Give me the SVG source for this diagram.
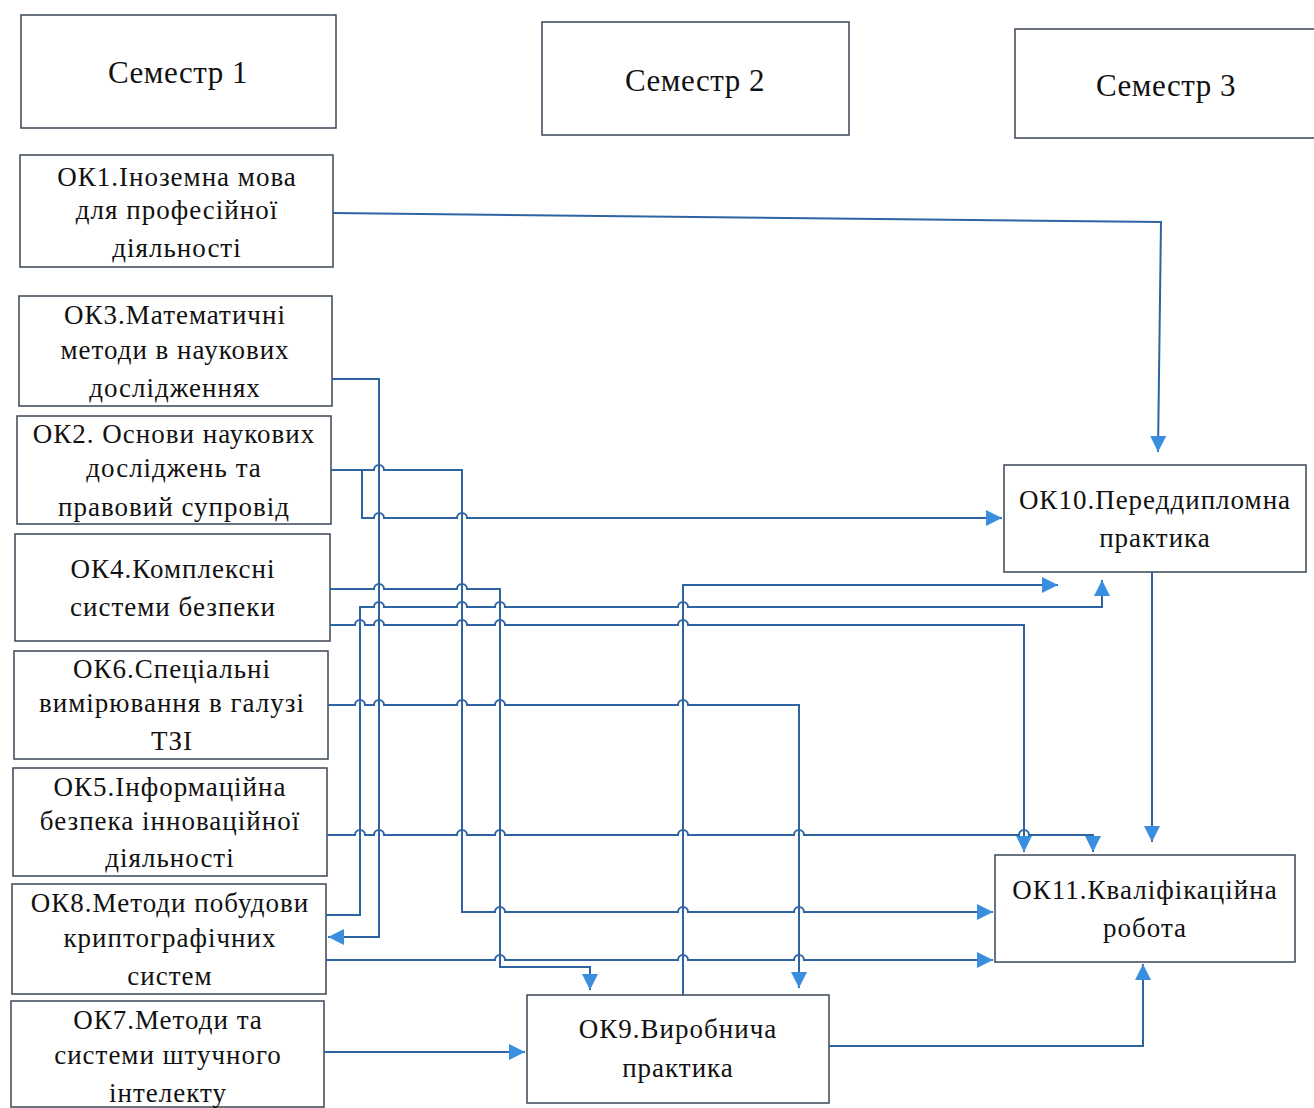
<svg xmlns="http://www.w3.org/2000/svg" width="1314" height="1108" viewBox="0 0 1314 1108">
<style>
.box{fill:#fff;stroke:#3b4656;stroke-width:1.5}
.t{font-family:"Liberation Serif","Times New Roman",serif;font-size:27px;letter-spacing:1px;fill:#111;text-anchor:middle}
.h{font-family:"Liberation Serif","Times New Roman",serif;font-size:31px;letter-spacing:0.5px;fill:#111;text-anchor:middle}
.c{fill:none;stroke:#2f64a3;stroke-width:2}
</style>
<defs>
<marker id="ar" viewBox="0 0 16 16" refX="16" refY="8" markerWidth="16" markerHeight="16" markerUnits="userSpaceOnUse" orient="auto">
<path d="M0,0 L16,8 L0,16 Z" fill="#3a8ee0"/>
</marker>
</defs>
<rect width="1314" height="1108" fill="#fff"/>

<g id="sem1"><rect class="box" x="21" y="15" width="315" height="113"/><text class="h" x="178" y="83">Семестр 1</text></g>
<g id="sem2"><rect class="box" x="542" y="22" width="307" height="113"/><text class="h" x="695" y="91">Семестр 2</text></g>
<g id="sem3"><rect class="box" x="1015" y="29" width="305" height="109"/><text class="h" x="1166" y="96">Семестр 3</text></g>

<g id="ok1"><rect class="box" x="20" y="155" width="313" height="112"/>
<text class="t" x="177" y="186">ОК1.Іноземна мова</text><text class="t" x="177" y="219">для професійної</text><text class="t" x="177" y="257">діяльності</text></g>
<g id="ok3"><rect class="box" x="19" y="296" width="313" height="110"/>
<text class="t" x="175" y="324">ОК3.Математичні</text><text class="t" x="175" y="359">методи в наукових</text><text class="t" x="175" y="397">дослідженнях</text></g>
<g id="ok2"><rect class="box" x="17" y="416" width="314" height="108"/>
<text class="t" x="174" y="443">ОК2. Основи наукових</text><text class="t" x="174" y="477">досліджень та</text><text class="t" x="174" y="516">правовий супровід</text></g>
<g id="ok4"><rect class="box" x="15" y="534" width="315" height="107"/>
<text class="t" x="173" y="578">ОК4.Комплексні</text><text class="t" x="173" y="616">системи безпеки</text></g>
<g id="ok6"><rect class="box" x="14" y="651" width="314" height="108"/>
<text class="t" x="172" y="678">ОК6.Спеціальні</text><text class="t" x="172" y="712">вимірювання в галузі</text><text class="t" x="172" y="750">ТЗІ</text></g>
<g id="ok5"><rect class="box" x="13" y="768" width="314" height="108"/>
<text class="t" x="170" y="796">ОК5.Інформаційна</text><text class="t" x="170" y="830">безпека інноваційної</text><text class="t" x="170" y="867">діяльності</text></g>
<g id="ok8"><rect class="box" x="12" y="884" width="314" height="110"/>
<text class="t" x="170" y="912">ОК8.Методи побудови</text><text class="t" x="170" y="947">криптографічних</text><text class="t" x="170" y="985">систем</text></g>
<g id="ok7"><rect class="box" x="11" y="1001" width="313" height="106"/>
<text class="t" x="168" y="1029">ОК7.Методи та</text><text class="t" x="168" y="1064">системи штучного</text><text class="t" x="168" y="1102">інтелекту</text></g>
<g id="ok9"><rect class="box" x="527" y="995" width="302" height="108"/>
<text class="t" x="678" y="1038">ОК9.Виробнича</text><text class="t" x="678" y="1077">практика</text></g>
<g id="ok10"><rect class="box" x="1004" y="465" width="302" height="107"/>
<text class="t" x="1155" y="509">ОК10.Переддипломна</text><text class="t" x="1155" y="547">практика</text></g>
<g id="ok11"><rect class="box" x="995" y="855" width="300" height="107"/>
<text class="t" x="1145" y="899">ОК11.Кваліфікаційна</text><text class="t" x="1145" y="937">робота</text></g>

<g id="connectors">
<path class="c" marker-end="url(#ar)" d="M333 213 L1161 222 L1158 452"/>
<path class="c" marker-end="url(#ar)" d="M332 379 H379 V937 H328"/>
<path class="c" marker-end="url(#ar)" d="M331 470 H374 A5 5 0 0 1 384 470 H462 V912 H495 A5 5 0 0 1 505 912 H678 A5 5 0 0 1 688 912 H794 A5 5 0 0 1 804 912 H993"/>
<path class="c" marker-end="url(#ar)" d="M362 470 V518 H374 A5 5 0 0 1 384 518 H457 A5 5 0 0 1 467 518 H1002"/>
<path class="c" marker-end="url(#ar)" d="M330 589 H374 A5 5 0 0 1 384 589 H457 A5 5 0 0 1 467 589 H500 V967 H590 V990"/>
<path class="c" marker-end="url(#ar)" d="M326 915 H360 V607 H374 A5 5 0 0 1 384 607 H457 A5 5 0 0 1 467 607 H495 A5 5 0 0 1 505 607 H678 A5 5 0 0 1 688 607 H1102 V580"/>
<path class="c" marker-end="url(#ar)" d="M330 625 H355 A5 5 0 0 1 365 625 H374 A5 5 0 0 1 384 625 H457 A5 5 0 0 1 467 625 H495 A5 5 0 0 1 505 625 H678 A5 5 0 0 1 688 625 H1024 V852"/>
<path class="c" marker-end="url(#ar)" d="M683 995 V585 H1058"/>
<path class="c" marker-end="url(#ar)" d="M328 705 H355 A5 5 0 0 1 365 705 H374 A5 5 0 0 1 384 705 H457 A5 5 0 0 1 467 705 H495 A5 5 0 0 1 505 705 H678 A5 5 0 0 1 688 705 H799 V988"/>
<path class="c" marker-end="url(#ar)" d="M327 835 H355 A5 5 0 0 1 365 835 H374 A5 5 0 0 1 384 835 H457 A5 5 0 0 1 467 835 H495 A5 5 0 0 1 505 835 H678 A5 5 0 0 1 688 835 H794 A5 5 0 0 1 804 835 H1019 A5 5 0 0 1 1029 835 H1093 V852"/>
<path class="c" marker-end="url(#ar)" d="M326 960 H495 A5 5 0 0 1 505 960 H678 A5 5 0 0 1 688 960 H794 A5 5 0 0 1 804 960 H993"/>
<path class="c" marker-end="url(#ar)" d="M324 1052 H525"/>
<path class="c" marker-end="url(#ar)" d="M829 1046 H1143 V964"/>
<path class="c" marker-end="url(#ar)" d="M1152 572 V842"/>
</g>
</svg>
